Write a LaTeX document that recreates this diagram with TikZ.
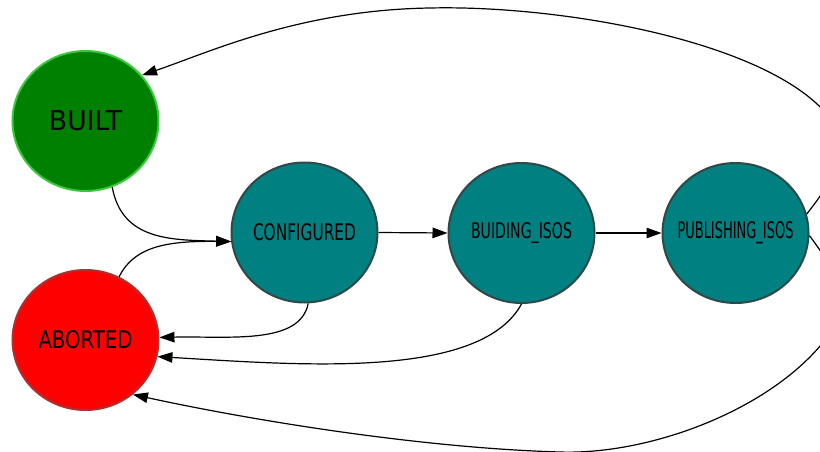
\documentclass[tikz,border=0pt]{standalone}
\usepackage{fontspec}
\usepackage{graphicx}
\setmainfont{DejaVu Sans}
\usetikzlibrary{shapes.geometric,arrows.meta}
\definecolor{builtfill}{RGB}{0,128,0}
\definecolor{builtline}{RGB}{60,200,60}
\definecolor{abortfill}{RGB}{255,0,0}
\definecolor{abortline}{RGB}{170,50,50}
\definecolor{tealfill}{RGB}{0,128,128}
\definecolor{tealline}{RGB}{47,72,72}
% label squeezed to a given width and cap height, taking no width in the node
\newcommand{\statelabel}[3]{\makebox[0pt]{\resizebox{#1pt}{#2pt}{#3}}}
\tikzset{
  state/.style={ellipse, inner sep=0pt, minimum width=146pt, minimum height=140pt, line width=2pt},
  okstate/.style={state, fill=builtfill, draw=builtline},
  badstate/.style={state, fill=abortfill, draw=abortline},
  runstate/.style={state, fill=tealfill, draw=tealline},
  trans/.style={line width=1.2pt, -{Triangle[length=15pt,width=10.5pt]}}
}
\begin{document}
\begin{tikzpicture}[x=1pt,y=-1pt]
\useasboundingbox (0,0) rectangle (820,452);
\clip (0,0) rectangle (820,452);

\node[okstate]  (built)   at (85.5,121)  {\statelabel{73}{20}{BUILT}};
\node[badstate] (aborted) at (85.5,340)  {\statelabel{94}{18}{ABORTED}};
\node[runstate] (conf)    at (304.5,232.5) {\statelabel{103}{17}{CONFIGURED}};
\node[runstate] (bi)      at (521.5,233) {\statelabel{101}{16}{BUIDING\_ISOS}};
\node[runstate] (pub)     at (735.5,233) {\statelabel{116}{17}{PUBLISHING\_ISOS}};

% forward chain
\draw[trans] (built.-68) .. controls (122,240) and (170,240) .. (conf.-173);
\draw[trans] (aborted.62) .. controls (135,245) and (170,241) .. (conf.-173);
\draw[trans] (conf.east) -- (bi.west);
\draw[trans] (bi.east) -- (pub.west);

% failures back to ABORTED
\draw[trans] (conf.-87) .. controls (300,345) and (230,336) .. (aborted.2);
\draw[trans] (bi.-90) .. controls (480,380) and (300,365) .. (aborted.-13);
\draw[trans] (pub.-2) .. controls (850,290) and (850,310) .. (825,340)
  .. controls (770,410) and (650,455) .. (560,452)
  .. controls (420,448) and (250,420) .. (aborted.-49);

% rebuild loop to BUILT
\draw[trans] (pub.15) .. controls (850,160) and (850,130) .. (825,112)
  .. controls (760,40) and (560,5) .. (430,8)
  .. controls (300,10) and (210,52) .. (built.39);
\end{tikzpicture}
\end{document}
